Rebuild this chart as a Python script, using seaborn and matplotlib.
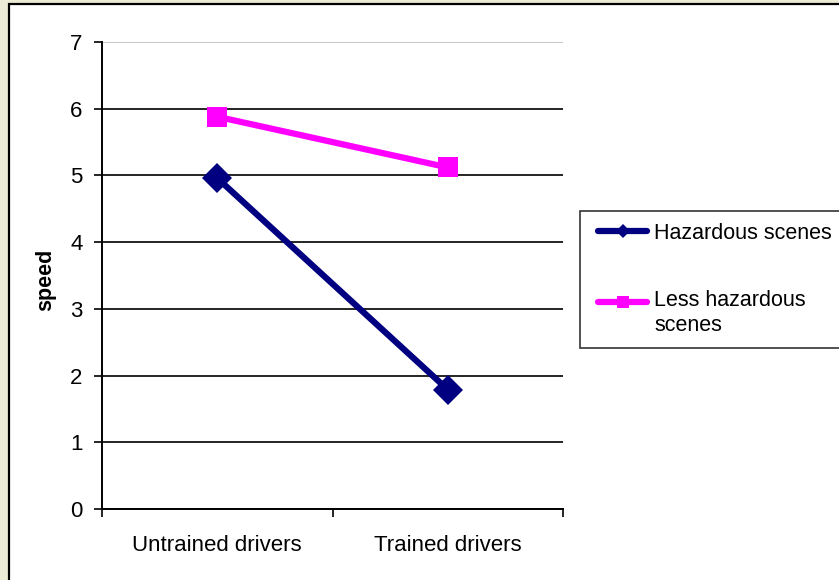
import matplotlib
matplotlib.use("Agg")
import matplotlib.pyplot as plt
from matplotlib.patches import Rectangle
from matplotlib.lines import Line2D
import seaborn as sns
import pandas as pd

# values
groups = ["Untrained drivers", "Trained drivers"]
hazardous = [4.96, 1.79]
less_hazardous = [5.88, 5.12]
series_names = ["Hazardous scenes", "Less hazardous\nscenes"]
yticks = [0, 1, 2, 3, 4, 5, 6, 7]

df = pd.DataFrame({
    "group": groups * 2,
    "x": [0, 1, 0, 1],
    "speed": hazardous + less_hazardous,
    "series": [series_names[0]] * 2 + [series_names[1]] * 2,
})

sns.set_style("white")
plt.rcParams["font.family"] = ["Liberation Sans", "DejaVu Sans"]
plt.rcParams["text.color"] = "black"
plt.rcParams["axes.labelcolor"] = "black"
plt.rcParams["xtick.color"] = "black"
plt.rcParams["ytick.color"] = "black"

fig = plt.figure(figsize=(8.39, 5.8), dpi=100, facecolor="#ECECD6")
# white chart area with black border (Excel chart frame)
fig.patches.append(Rectangle((8.5 / 839, -0.05), 1.1, 1 - 3.5 / 580 + 0.05,
                             transform=fig.transFigure, facecolor="white",
                             edgecolor="black", linewidth=1.6, zorder=-10))

ax = fig.add_axes([102 / 839, 1 - 509 / 580, 461 / 839, 467 / 580])
ax.set_facecolor("none")

palette = {series_names[0]: "#000080", series_names[1]: "#FF00FF"}
markers = {series_names[0]: "D", series_names[1]: "s"}
sns.lineplot(data=df, x="x", y="speed", hue="series", style="series",
             palette=palette, markers=markers, dashes=False, linewidth=4.5,
             markersize=15, markeredgewidth=0, ax=ax, legend=False, zorder=3)

ax.set_xlim(-0.5, 1.5)
ax.set_ylim(0, 7)
ax.set_yticks(yticks)
ax.set_xticks([0, 1])
ax.set_xticklabels(groups)
ax.set_xticks([-0.5, 0.5, 1.5], minor=True)
ax.tick_params(axis="x", which="major", length=0, pad=19, labelsize=16)
ax.tick_params(axis="x", which="minor", length=6, width=1.2, direction="out",
               color="black", bottom=True)
ax.tick_params(axis="y", length=6, width=1.2, direction="out", color="black",
               pad=8, labelsize=16, left=True)
ax.set_xlabel("")
ax.set_ylabel("speed", fontsize=15.5, fontweight="bold")
ax.yaxis.set_label_coords(-0.1, 0.49)

ax.grid(axis="y", color="black", linewidth=1.2)
ax.yaxis.get_gridlines()[-1].set_color("#BBBBBB")
ax.set_axisbelow(True)
for side in ["top", "right"]:
    ax.spines[side].set_visible(False)
for side in ["left", "bottom"]:
    ax.spines[side].set_color("black")
    ax.spines[side].set_linewidth(1.4)

handles = [Line2D([], [], color=palette[n], marker=markers[n], linewidth=4.5,
                  markersize=7 if n == series_names[0] else 9,
                  markeredgewidth=0) for n in series_names]
leg = fig.legend(handles, series_names, loc="upper left",
                 bbox_to_anchor=(580 / 839, 1 - 211 / 580), frameon=True,
                 fontsize=15.5, handlelength=2.3, handletextpad=0.6,
                 labelspacing=2.15, borderpad=0.55, fancybox=False,
                 borderaxespad=0)
leg.get_frame().set_edgecolor("black")
leg.get_frame().set_linewidth(1.2)
for t in leg.get_texts():
    t.set_linespacing(1.25)

# nudge handles right; Excel aligns the handle with the first line of a wrapped label
fig.canvas.draw()
for i, h in enumerate(leg.legend_handles):
    h.set_xdata([x + 4.3 for x in h.get_xdata()])
    if i == 1:
        h.set_ydata([y + 8.5 for y in h.get_ydata()])

fig.savefig("out.png", dpi=100, facecolor=fig.get_facecolor())
